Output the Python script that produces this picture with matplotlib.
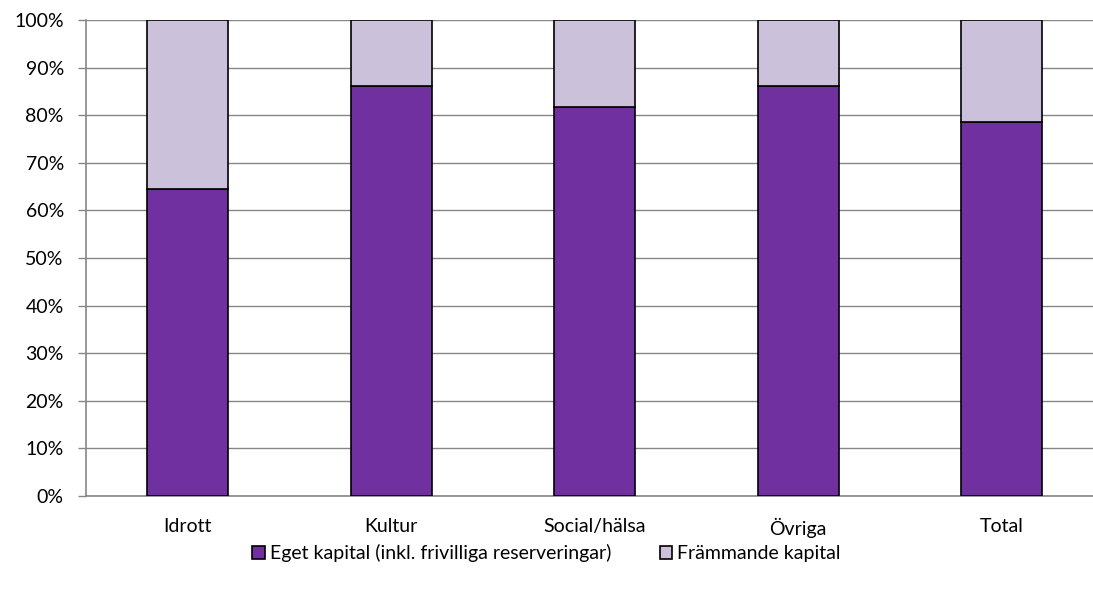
import matplotlib
matplotlib.use("Agg")
import matplotlib.pyplot as plt
import numpy as np

# Data (share of total, %)
categories = ["Idrott", "Kultur", "Social/hälsa", "Övriga", "Total"]
eget = [64.5, 86.1, 81.8, 86.2, 78.5]
frammande = [100 - v for v in eget]
yticks = list(range(0, 101, 10))

PURPLE = "#7030A0"
LILAC = "#CCC1DA"
GRID = "#868686"
FS = 14

plt.rcParams["font.family"] = ["Lato", "DejaVu Sans"]

fig = plt.figure(figsize=(10.93, 5.92), dpi=100)
W, H = 1093, 592
ax = fig.add_axes([86 / W, (H - 496) / H, 1017.5 / W, 476 / H])

x = np.arange(len(categories))
ax.bar(x, eget, width=0.4, color=PURPLE, edgecolor="black", linewidth=1.2,
       label="Eget kapital (inkl. frivilliga reserveringar)", zorder=3)
ax.bar(x, frammande, width=0.4, bottom=eget, color=LILAC, edgecolor="black",
       linewidth=1.2, label="Främmande kapital", zorder=3)

ax.set_xlim(-0.5, len(categories) - 0.5)
ax.set_ylim(0, 100)
ax.set_yticks(yticks)
ax.set_yticklabels([f"{t}%" for t in yticks], fontsize=FS)
ax.set_xticks(x)
ax.set_xticklabels(categories, fontsize=FS)
ax.tick_params(axis="x", length=0, pad=16)
ax.tick_params(axis="y", length=6, color=GRID, width=1, pad=10)
ax.grid(axis="y", color=GRID, linewidth=1, zorder=0)
for side in ["top", "right"]:
    ax.spines[side].set_visible(False)
for side in ["left", "bottom"]:
    ax.spines[side].set_color(GRID)
    ax.spines[side].set_linewidth(1.2)

fig.legend(loc="center", bbox_to_anchor=(0.5, (H - 553) / H), ncol=2,
           frameon=False, fontsize=FS, handlelength=0.65, handleheight=0.65,
           handletextpad=0.25, columnspacing=2.5)

fig.savefig("out.png", dpi=100)
